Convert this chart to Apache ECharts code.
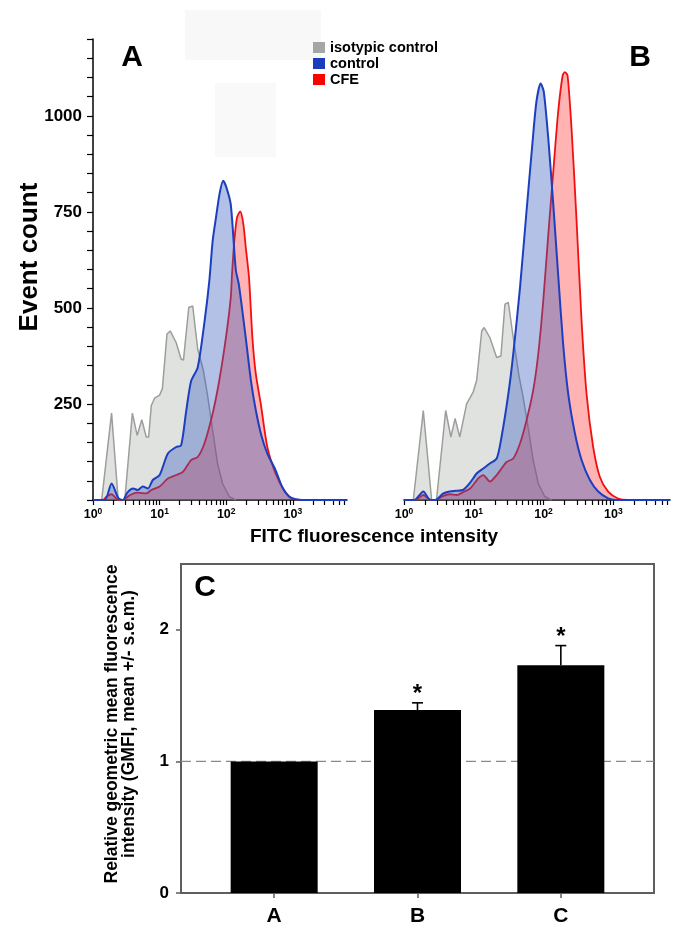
<!DOCTYPE html>
<html>
<head>
<meta charset="utf-8">
<script src="https://cdn.jsdelivr.net/npm/echarts@6/dist/echarts.min.js"></script>
<style>
  html, body { margin: 0; padding: 0; background: #fff; }
  #chart { width: 673px; height: 927px; }
</style>
</head>
<body>
<div id="chart"></div>
<script>
// ---- Flow cytometry histograms (FITC intensity vs event count) ----
// Panel A
const isoA_x  = [1.35, 1.9, 2.39, 3.0, 3.9, 4.6, 5.4, 6.3, 6.85, 7.5, 8.4, 10, 11, 12.9, 14.4, 17.7, 21, 22.8, 27.4, 31.4, 37.3, 45.4, 52.5, 62.5, 74, 88, 111, 140];
const isoA_y  = [0, 226, 0, 0, 226, 168, 209, 164, 164, 246, 265, 273, 290, 432, 440, 410, 367, 364, 501, 505, 393, 337, 272, 181, 95, 43, 9, 0];
const ctlA_x  = [1, 1.5, 1.9, 2.4, 2.8, 3.3, 4.0, 4.7, 5.6, 6.7, 7.9, 10, 13.3, 17.7, 21, 25, 29.7, 37.3, 47, 55.7, 62.5, 70, 80, 90, 100, 117, 139, 155, 197, 235, 277, 340, 414, 550, 692, 873, 1100, 1400, 6500];
const ctlA_y  = [0, 0, 43, 5, 0, 20, 30, 26, 35, 30, 52, 65, 121, 138, 142, 230, 310, 345, 462, 570, 674, 734, 800, 831, 815, 769, 600, 560, 420, 310, 235, 165, 121, 78, 34, 9, 2, 0, 0];
const cfeA_x  = [1, 1.4, 1.6, 1.9, 2.3, 2.8, 3.6, 4.7, 6.3, 7.5, 10, 13.3, 17.7, 22.3, 29.7, 37.3, 47, 62.5, 78.6, 99, 117, 122, 132, 145, 162, 180, 197, 220, 247, 277, 330, 414, 550, 734, 977, 1500, 6500];
const cfeA_y  = [0, 0, 9, 15, 2, 0, 13, 19, 17, 26, 35, 56, 65, 73, 104, 112, 147, 225, 311, 423, 527, 587, 673, 735, 751, 720, 656, 578, 423, 330, 250, 138, 69, 26, 4, 0, 0];

// Panel B
const isoB_x  = [1.36, 1.89, 2.49, 2.92, 3.96, 4.7, 5.4, 6.3, 6.7, 7.9, 9.8, 11, 13, 14.1, 17, 21.3, 24.5, 28, 31.3, 36.8, 44.4, 51, 60, 71, 84, 104, 130];
const isoB_y  = [0, 233, 0, 0, 233, 164, 212, 164, 168, 250, 281, 311, 440, 449, 423, 371, 375, 510, 514, 423, 324, 268, 190, 104, 43, 9, 0];
const ctlB_x  = [1, 1.4, 1.89, 2.3, 2.8, 3.66, 4.5, 5.5, 7.0, 8.7, 11, 13.7, 17, 21.3, 25, 31.3, 36.8, 46, 57, 69, 79, 91, 101, 117, 138, 162, 191, 226, 282, 351, 462, 608, 845, 1100, 6500];
const ctlB_y  = [0, 0, 22, 2, 0, 17, 22, 24, 26, 43, 69, 82, 95, 108, 164, 276, 380, 553, 751, 924, 1036, 1084, 1062, 941, 769, 587, 406, 276, 173, 104, 52, 22, 4, 0, 0];
const cfeB_x  = [1, 1.45, 1.89, 2.4, 2.9, 3.5, 4.5, 5.7, 7.3, 8.9, 11.6, 13.7, 17, 21.3, 25, 29.5, 36.8, 46, 57, 71, 84, 99, 117, 138, 162, 188, 202, 221, 252, 298, 351, 414, 515, 642, 845, 1170, 1600, 6500];
const cfeB_y  = [0, 0, 13, 0, 0, 9, 15, 13, 22, 30, 56, 65, 48, 65, 82, 99, 108, 147, 207, 285, 380, 518, 691, 855, 1010, 1105, 1114, 1105, 967, 725, 466, 276, 138, 60, 22, 4, 0, 0];

// Axis ticks
const logTickValues  = [1, 2, 3, 4, 5, 6, 7, 8, 9, 10, 20, 30, 40, 50, 60, 70, 80, 90,
                        100, 200, 300, 400, 500, 600, 700, 800, 900, 1000, 2000, 3000, 4000, 5000, 6000];
const logLabelValues = [1, 10, 100, 1000];
const countLabels    = [250, 500, 750, 1000];

// ---- Panel C: relative GMFI ----
const groups      = ['A', 'B', 'C'];
const gmfiMean    = [1, 1.39, 1.73];
const gmfiSem     = [0, 0.055, 0.15];
const signif      = ['', '*', '*'];
const gmfiTicks   = [0, 1, 2];
const refLevel    = 1;

const FONT = '"Liberation Sans", Arial, Helvetica, sans-serif';

const zip = (xs, ys) => xs.map((x, i) => [x, ys[i]]);

const COLORS = {
  iso:  { line: '#9c9e9c', fill: 'rgba(150,156,150,0.42)', legend: '#a2a7a2' },
  ctl:  { line: '#1c3fc0', fill: 'rgba(55,92,192,0.54)',  legend: '#1a3dc0' },
  cfe:  { line: '#f01010', fill: 'rgba(255,40,40,0.5)',    legend: '#ff0000' }
};

function histSeries(name, key, xs, ys, gi, smooth, width, z) {
  return {
    name: name, type: 'line', xAxisIndex: gi, yAxisIndex: gi,
    data: zip(xs, ys), showSymbol: false, smooth: smooth, z: z,
    color: COLORS[key].line,
    lineStyle: { color: COLORS[key].line, width: width },
    areaStyle: { color: COLORS[key].fill, origin: 'start' },
    emphasis: { disabled: true }, silent: true
  };
}

function logXAxis(gi) {
  return {
    type: 'log', logBase: 10, gridIndex: gi, min: 1, max: 6500,
    axisLine: { show: true, lineStyle: { color: '#000', width: 1.5 } },
    axisTick: { show: true, customValues: logTickValues, length: 5, lineStyle: { color: '#000', width: 1.2 } },
    splitLine: { show: false },
    minorTick: { show: false },
    axisLabel: {
      customValues: logLabelValues, margin: 7,
      formatter: v => '{b|10}{s|' + Math.round(Math.log10(v)) + '}',
      rich: {
        b: { fontFamily: FONT, fontWeight: 'bold', fontSize: 12.5, color: '#000' },
        s: { fontFamily: FONT, fontWeight: 'bold', fontSize: 8.5, color: '#000', padding: [0, 0, 7, 0] }
      }
    }
  };
}

function countYAxis(gi, visible) {
  return {
    type: 'value', gridIndex: gi, min: 0, max: 1200, interval: 50, show: visible,
    axisLine: { show: true, lineStyle: { color: '#000', width: 1.5 } },
    axisTick: { show: true, interval: 0, length: 6, lineStyle: { color: '#000', width: 1.2 } },
    splitLine: { show: false },
    axisLabel: {
      interval: 0, margin: 11, fontFamily: FONT, fontWeight: 'bold', fontSize: 17, color: '#000',
      formatter: v => (countLabels.indexOf(v) >= 0 ? String(v) : '')
    }
  };
}

const chart = echarts.init(document.getElementById('chart'), null, { renderer: 'canvas' });

const option = {
  animation: false,
  backgroundColor: '#fff',
  legend: {
    left: 313, top: 40, orient: 'vertical', icon: 'rect',
    itemWidth: 12, itemHeight: 11, itemGap: 1, padding: 0,
    selectedMode: false,
    textStyle: { fontFamily: FONT, fontWeight: 'bold', fontSize: 14.5, color: '#000', lineHeight: 14 },
    data: [
      { name: 'isotypic control', itemStyle: { color: COLORS.iso.legend } },
      { name: 'control', itemStyle: { color: COLORS.ctl.legend } },
      { name: 'CFE', itemStyle: { color: COLORS.cfe.legend } }
    ]
  },
  grid: [
    { left: 93, top: 39, width: 254, height: 461 },
    { left: 404, top: 39, width: 266, height: 461 },
    { left: 181, top: 564, width: 473, height: 329, show: true, borderColor: '#5e5e5e', borderWidth: 2, backgroundColor: 'transparent' }
  ],
  xAxis: [
    logXAxis(0),
    logXAxis(1),
    {
      type: 'value', gridIndex: 2, min: 0.35, max: 3.65,
      axisLine: { show: true, lineStyle: { color: '#5e5e5e', width: 2 } },
      axisTick: { show: true, customValues: [1, 2, 3], length: 5, lineStyle: { color: '#5e5e5e', width: 1.5 } },
      splitLine: { show: false },
      axisLabel: {
        customValues: [1, 2, 3], margin: 13,
        fontFamily: FONT, fontWeight: 'bold', fontSize: 21, color: '#000',
        formatter: v => groups[Math.round(v) - 1] || ''
      }
    }
  ],
  yAxis: [
    countYAxis(0, true),
    countYAxis(1, false),
    {
      type: 'value', gridIndex: 2, min: 0, max: 2.5,
      axisLine: { show: true, lineStyle: { color: '#5e5e5e', width: 2 } },
      axisTick: { show: true, customValues: gmfiTicks, length: 5, lineStyle: { color: '#5e5e5e', width: 1.5 } },
      splitLine: { show: false },
      axisLabel: {
        customValues: gmfiTicks, margin: 12, fontFamily: FONT, fontWeight: 'bold', fontSize: 17, color: '#000',
        formatter: v => String(v)
      }
    }
  ],
  series: [
    histSeries('isotypic control', 'iso', isoA_x, isoA_y, 0, false, 1.5, 2),
    histSeries('CFE', 'cfe', cfeA_x, cfeA_y, 0, 0.25, 1.8, 3),
    histSeries('control', 'ctl', ctlA_x, ctlA_y, 0, 0.25, 2, 4),
    histSeries('isotypic control', 'iso', isoB_x, isoB_y, 1, false, 1.5, 2),
    histSeries('CFE', 'cfe', cfeB_x, cfeB_y, 1, 0.25, 1.8, 3),
    histSeries('control', 'ctl', ctlB_x, ctlB_y, 1, 0.25, 2, 4),
    {
      // reference level of the normalised control
      name: 'ref', type: 'line', xAxisIndex: 2, yAxisIndex: 2, z: 1,
      data: [[0.35, refLevel], [3.65, refLevel]], showSymbol: false, silent: true,
      lineStyle: { color: '#8a8a8a', width: 1.3, type: [10, 5] }
    },
    {
      name: 'GMFI', type: 'bar', xAxisIndex: 2, yAxisIndex: 2, z: 3,
      barWidth: 87, silent: true,
      itemStyle: { color: '#000' },
      data: groups.map((g, i) => [i + 1, gmfiMean[i]])
    },
    {
      name: 'sem', type: 'custom', xAxisIndex: 2, yAxisIndex: 2, z: 4, silent: true,
      data: groups.map((g, i) => [i + 1, gmfiMean[i], gmfiSem[i]]),
      renderItem: function (params, api) {
        const sem = api.value(2);
        if (!sem) return null;
        const base = api.coord([api.value(0), api.value(1)]);
        const top = api.coord([api.value(0), api.value(1) + sem]);
        const cap = 5.5;
        const st = { stroke: '#000', lineWidth: 1.6 };
        return {
          type: 'group',
          children: [
            { type: 'line', shape: { x1: top[0], y1: base[1], x2: top[0], y2: top[1] }, style: st },
            { type: 'line', shape: { x1: top[0] - cap, y1: top[1], x2: top[0] + cap, y2: top[1] }, style: st },
            { type: 'text', style: { text: signif[params.dataIndex], x: top[0], y: top[1] - 8,
              align: 'center', verticalAlign: 'middle', font: 'bold 24px ' + FONT, fill: '#000' } }
          ]
        };
      }
    }
  ],
  graphic: [
    // faint blank patches in the upper part of the figure
    { type: 'rect', z: -10, shape: { x: 185, y: 10, width: 136, height: 50 }, style: { fill: '#f8f8f8' } },
    { type: 'rect', z: -10, shape: { x: 215, y: 83, width: 61, height: 74 }, style: { fill: '#f9f9f9' } },
    { type: 'text', x: 132, y: 58, style: { text: 'A', font: 'bold 30px ' + FONT, fill: '#000', align: 'center', verticalAlign: 'middle' } },
    { type: 'text', x: 640, y: 58, style: { text: 'B', font: 'bold 30px ' + FONT, fill: '#000', align: 'center', verticalAlign: 'middle' } },
    { type: 'text', x: 205, y: 588, style: { text: 'C', font: 'bold 30px ' + FONT, fill: '#000', align: 'center', verticalAlign: 'middle' } },
    { type: 'text', x: 374, y: 537, style: { text: 'FITC fluorescence intensity', font: 'bold 19px ' + FONT, fill: '#000', align: 'center', verticalAlign: 'middle' } },
    { type: 'text', x: 30, y: 257, rotation: Math.PI / 2, style: { text: 'Event count', font: 'bold 26px ' + FONT, fill: '#000', align: 'center', verticalAlign: 'middle' } },
    { type: 'text', x: 121, y: 724, rotation: Math.PI / 2, style: {
      text: 'Relative geometric mean fluorescence\nintensity (GMFI, mean +/- s.e.m.)',
      font: 'bold 17.5px ' + FONT, lineHeight: 17, fill: '#000', align: 'center', verticalAlign: 'middle' } }
  ]
};

chart.setOption(option);
</script>
</body>
</html>
